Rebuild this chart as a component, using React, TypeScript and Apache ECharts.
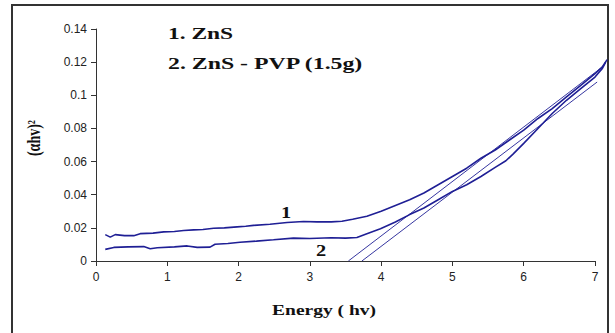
import React, { useEffect, useRef } from "react";
import * as echarts from "echarts";

// Curve 1: ZnS
const energy1 = [0.13, 0.2, 0.27, 0.4, 0.53, 0.62, 0.8, 0.95, 1.1, 1.23, 1.37, 1.5, 1.65, 1.8, 1.98, 2.1, 2.21, 2.44, 2.68, 2.91, 3.1, 3.3, 3.45, 3.6, 3.8, 4.0, 4.2, 4.4, 4.6, 4.8, 5.0, 5.2, 5.4, 5.6, 5.8, 6.0, 6.2, 6.4, 6.6, 6.8, 7.0, 7.1, 7.17];
const value1 = [0.0159, 0.0144, 0.0159, 0.0153, 0.0153, 0.0165, 0.0168, 0.0176, 0.0178, 0.0184, 0.0188, 0.019, 0.0198, 0.02, 0.0206, 0.021, 0.0215, 0.0222, 0.0232, 0.0238, 0.0236, 0.0236, 0.024, 0.0252, 0.027, 0.03, 0.0335, 0.037, 0.041, 0.046, 0.051, 0.056, 0.062, 0.067, 0.073, 0.079, 0.086, 0.092, 0.099, 0.106, 0.113, 0.117, 0.1215];

// Curve 2: ZnS - PVP (1.5g)
const energy2 = [0.13, 0.25, 0.45, 0.67, 0.76, 0.86, 1.1, 1.28, 1.42, 1.6, 1.67, 1.85, 2.02, 2.25, 2.49, 2.77, 3.0, 3.3, 3.5, 3.66, 3.8, 3.99, 4.2, 4.4, 4.6, 4.8, 5.0, 5.2, 5.4, 5.6, 5.75, 5.85, 6.0, 6.2, 6.4, 6.6, 6.8, 7.0, 7.1, 7.15];
const value2 = [0.007, 0.0082, 0.0085, 0.0087, 0.0074, 0.008, 0.0085, 0.0091, 0.0082, 0.0084, 0.0101, 0.0106, 0.0113, 0.012, 0.0128, 0.0138, 0.0136, 0.014, 0.0138, 0.0142, 0.0165, 0.0195, 0.0235, 0.028, 0.032, 0.037, 0.042, 0.046, 0.051, 0.0565, 0.0605, 0.0645, 0.071, 0.08, 0.089, 0.097, 0.104, 0.111, 0.116, 0.12];

// Tangent lines
const lineAEnergy = [3.54, 7.1];
const lineAValue = [0, 0.117];
const lineBEnergy = [3.73, 7.03];
const lineBValue = [0, 0.108];

const xTicks = { min: 0, max: 7, interval: 1 };
const xDataMax = 7.2; // the traces run slightly past the last tick
const yTicks = { min: 0, max: 0.14, interval: 0.02 };

const legendLabels = ["1. ZnS", "2. ZnS - PVP (1.5g)"];
const curveLabels = ["1", "2"];
const xTitle = "Energy ( hv)";
const yTitle = "(αhv)²";

const zip = (xs: number[], ys: number[]) => xs.map((x, i) => [x, ys[i]]);

const COLOR = "#1f1f95";

export default function App() {
  const ref = useRef<HTMLDivElement>(null);
  useEffect(() => {
    if (!ref.current) return;
    const chart = echarts.init(ref.current, null, { renderer: "svg" });
    const axisText = { color: "#222", fontFamily: "Liberation Sans", fontSize: 12 };
    const serifBold = { fontFamily: "Liberation Serif", fontWeight: "bold" as const, fill: "#111" };
    const left = 96;
    const right = 20;
    const plotW = 615 - left - right;
    const unit = plotW / (xTicks.max - xTicks.min);
    const right2 = 615 - left - unit * (xDataMax - xTicks.min);
    const hiddenAxis = { show: false };
    chart.setOption({
      animation: false,
      backgroundColor: "#fff",
      grid: [
        { left, right, top: 29, bottom: 72, containLabel: false },
        { left, right: right2, top: 29, bottom: 72, containLabel: false },
      ],
      xAxis: [
        {
          type: "value",
          gridIndex: 0,
          min: xTicks.min,
          max: xTicks.max,
          interval: xTicks.interval,
          axisLine: { show: true, onZero: false, lineStyle: { color: "#333", width: 1 } },
          axisTick: { show: true, inside: false, length: 5, lineStyle: { color: "#333" } },
          axisLabel: { ...axisText, margin: 10 },
          splitLine: { show: false },
        },
        { type: "value", gridIndex: 1, min: xTicks.min, max: xDataMax, ...hiddenAxis },
      ],
      yAxis: [
        {
          type: "value",
          gridIndex: 0,
          min: yTicks.min,
          max: yTicks.max,
          interval: yTicks.interval,
          axisLine: { show: true, lineStyle: { color: "#333", width: 1 } },
          axisTick: { show: true, inside: false, length: 5, lineStyle: { color: "#333" } },
          axisLabel: { ...axisText, margin: 9 },
          splitLine: { show: false },
        },
        { type: "value", gridIndex: 1, min: yTicks.min, max: yTicks.max, ...hiddenAxis },
      ],
      series: [
        { type: "line", xAxisIndex: 1, yAxisIndex: 1, data: zip(energy1, value1), showSymbol: false, lineStyle: { color: COLOR, width: 1.6 } },
        { type: "line", xAxisIndex: 1, yAxisIndex: 1, data: zip(energy2, value2), showSymbol: false, lineStyle: { color: COLOR, width: 1.6 } },
        { type: "line", xAxisIndex: 1, yAxisIndex: 1, data: zip(lineAEnergy, lineAValue), showSymbol: false, lineStyle: { color: COLOR, width: 0.9 } },
        { type: "line", xAxisIndex: 1, yAxisIndex: 1, data: zip(lineBEnergy, lineBValue), showSymbol: false, lineStyle: { color: COLOR, width: 0.9 } },
      ],
      graphic: [
        { type: "rect", shape: { x: 12, y: 5, width: 596, height: 340 }, style: { fill: "none", stroke: "#333", lineWidth: 2 }, silent: true },
        { type: "text", x: 168, y: 33, scaleX: 1.38, style: { text: legendLabels[0], ...serifBold, fontSize: 17, verticalAlign: "middle", align: "left" } },
        { type: "text", x: 168, y: 63, scaleX: 1.4, style: { text: legendLabels[1], ...serifBold, fontSize: 17, verticalAlign: "middle", align: "left" } },
        { type: "text", x: 286, y: 212, scaleX: 1.2, style: { text: curveLabels[0], ...serifBold, fontSize: 17, verticalAlign: "middle", align: "center" } },
        { type: "text", x: 321, y: 250, scaleX: 1.2, style: { text: curveLabels[1], ...serifBold, fontSize: 17, verticalAlign: "middle", align: "center" } },
        { type: "text", x: 324, y: 310, scaleX: 1.3, style: { text: xTitle, ...serifBold, fontSize: 15, verticalAlign: "middle", align: "center" } },
        { type: "text", x: 34, y: 138, rotation: Math.PI / 2, scaleY: 1.3, style: { text: yTitle, ...serifBold, fontSize: 14, verticalAlign: "middle", align: "center" } },
      ],
    });
    return () => chart.dispose();
  }, []);
  return <div ref={ref} style={{ width: 615, height: 333, position: "absolute", left: 0, top: 0 }} />;
}
